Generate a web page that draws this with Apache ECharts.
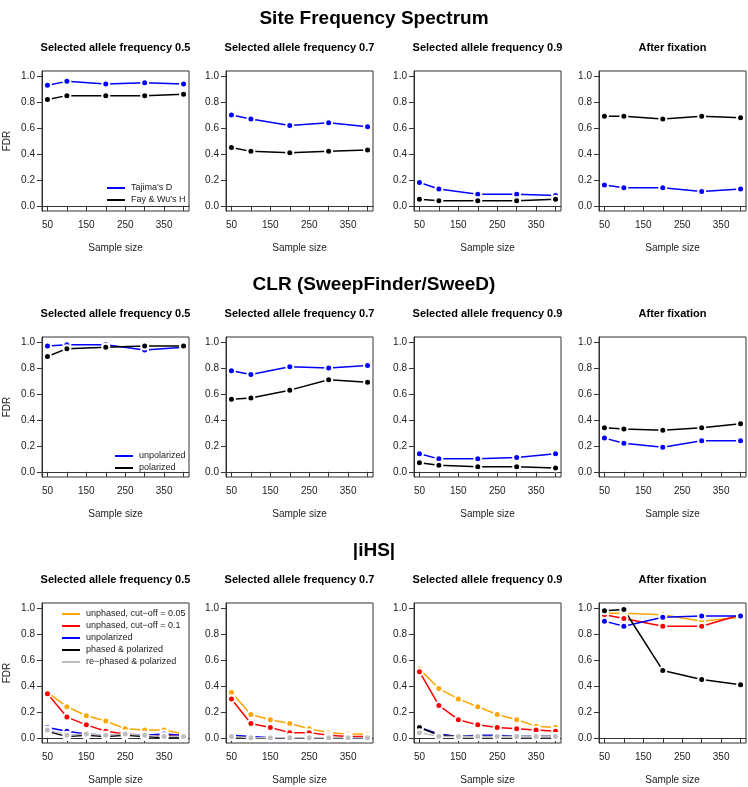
<!DOCTYPE html>
<html><head><meta charset="utf-8">
<script src="https://cdn.jsdelivr.net/npm/echarts@6/dist/echarts.min.js"></script>
<style>html,body{margin:0;padding:0;background:#fff}#c{width:748px;height:787px}</style>
</head><body><div id="c"></div><script>
const sectionTitles = ["Site Frequency Spectrum", "CLR (SweepFinder/SweeD)", "|iHS|"];
const panelTitles = ["Selected allele frequency 0.5", "Selected allele frequency 0.7", "Selected allele frequency 0.9", "After fixation"];
const xTicks = [50, 100, 150, 200, 250, 300, 350, 400];
const xTickLabels = [50, 150, 250, 350];
const yTicks = [0, 0.2, 0.4, 0.6, 0.8, 1.0];
const sizes5 = [50, 100, 200, 300, 400];
const sizes8 = [50, 100, 150, 200, 250, 300, 350, 400];

// Row 1: Site Frequency Spectrum (one array per panel)
const sfsTajimaD = [[0.93,0.96,0.94,0.95,0.94],[0.70,0.67,0.62,0.64,0.61],[0.18,0.13,0.09,0.09,0.08],[0.16,0.14,0.14,0.11,0.13]];
const sfsFayWuH = [[0.82,0.85,0.85,0.85,0.86],[0.45,0.42,0.41,0.42,0.43],[0.05,0.04,0.04,0.04,0.05],[0.69,0.69,0.67,0.69,0.68]];
// Row 2: CLR
const clrUnpolarized = [[0.97,0.98,0.98,0.94,0.96],[0.78,0.75,0.81,0.80,0.82],[0.14,0.10,0.10,0.11,0.14],[0.26,0.22,0.19,0.24,0.24]];
const clrPolarized = [[0.89,0.95,0.96,0.97,0.97],[0.56,0.57,0.63,0.71,0.69],[0.07,0.05,0.04,0.04,0.03],[0.34,0.33,0.32,0.34,0.37]];
// Row 3: |iHS|
const ihsUnphased005 = [[0.35,0.24,0.17,0.13,0.07,0.06,0.06,0.03],[0.35,0.18,0.14,0.11,0.07,0.04,0.03,0.03],[0.53,0.38,0.30,0.24,0.18,0.14,0.09,0.08],[0.96,0.96,0.95,0.90,0.93]];
const ihsUnphased01 = [[0.34,0.16,0.10,0.05,0.03,0.02,0.02,0.01],[0.30,0.11,0.08,0.04,0.04,0.02,0.01,0.01],[0.51,0.25,0.14,0.10,0.08,0.07,0.06,0.05],[0.95,0.92,0.86,0.86,0.95]];
const ihsUnpolarized = [[0.08,0.05,0.03,0.02,0.02,0.02,0.03,0.02],[0.02,0.01,0.00,0.00,0.00,0.00,0.00,0.00],[0.08,0.03,0.01,0.02,0.02,0.01,0.01,0.01],[0.90,0.86,0.93,0.94,0.94]];
const ihsPhasedPolarized = [[0.05,0.01,0.02,0.01,0.02,0.01,0.00,0.00],[0.01,0.00,0.00,0.00,0.00,0.00,0.00,0.00],[0.08,0.02,0.01,0.01,0.01,0.01,0.01,0.01],[0.98,0.99,0.52,0.45,0.41]];
const ihsRephasedPolarized = [[0.06,0.02,0.03,0.02,0.03,0.02,0.01,0.01],[0.01,0.00,0.00,0.00,0.00,0.00,0.00,0.00],[0.04,0.01,0.01,0.01,0.01,0.01,0.01,0.01],null];

const rowSeries = [
  [["Tajima's D", sfsTajimaD, '#0000FF'], ["Fay & Wu's H", sfsFayWuH, '#000000']],
  [["unpolarized", clrUnpolarized, '#0000FF'], ["polarized", clrPolarized, '#000000']],
  [["unphased, cut\u2212off = 0.05", ihsUnphased005, '#FFA500'], ["unphased, cut\u2212off = 0.1", ihsUnphased01, '#FF0000'],
   ["unpolarized", ihsUnpolarized, '#0000FF'], ["phased & polarized", ihsPhasedPolarized, '#000000'],
   ["re\u2212phased & polarized", ihsRephasedPolarized, '#BEBEBE']]
];

const FONT = "'Liberation Sans', Arial, Helvetica, sans-serif";
const colLeft = [42, 226, 414, 599];
const boxW = 147;
const rowTop = [71, 337, 603];
const boxH = 140;

const grids = [], xAxes = [], yAxes = [], series = [], graphics = [];
let gi = 0;
for (let r = 0; r < 3; r++) {
  graphics.push({type: 'text', x: 374, y: rowTop[r] - 52, style: {text: sectionTitles[r], font: 'bold 19px ' + FONT, fill: '#000', align: 'center', verticalAlign: 'middle'}});
  for (let c = 0; c < 4; c++) {
    grids.push({left: colLeft[c], top: rowTop[r], width: boxW, height: boxH, show: true, borderColor: '#333', borderWidth: 1, backgroundColor: 'transparent'});
    graphics.push({type: 'text', x: colLeft[c] + boxW / 2, y: rowTop[r] - 23, style: {text: panelTitles[c], font: 'bold 11px ' + FONT, fill: '#000', align: 'center', verticalAlign: 'middle'}});
    xAxes.push({
      gridIndex: gi, type: 'value', min: 36, max: 414,
      axisLine: {show: true, lineStyle: {color: '#333'}},
      axisTick: {show: true, customValues: xTicks, length: 5, lineStyle: {color: '#333'}},
      axisLabel: {customValues: xTickLabels, fontSize: 10, color: '#222', margin: 9, fontFamily: FONT},
      splitLine: {show: false},
      name: 'Sample size', nameLocation: 'middle', nameGap: 32,
      nameTextStyle: {fontSize: 10, color: '#222', fontFamily: FONT}
    });
    yAxes.push({
      gridIndex: gi, type: 'value', min: -0.04, max: 1.04,
      axisLine: {show: true, lineStyle: {color: '#333'}},
      axisTick: {show: true, customValues: yTicks, length: 5, lineStyle: {color: '#333'}},
      axisLabel: {customValues: yTicks, fontSize: 10, color: '#222', margin: 7, fontFamily: FONT, formatter: v => Number(v).toFixed(1)},
      splitLine: {show: false},
      name: c === 0 ? 'FDR' : '', nameLocation: 'middle', nameGap: 30,
      nameTextStyle: {fontSize: 10, color: '#222', fontFamily: FONT}
    });
    const xs = (r === 2 && c < 3) ? sizes8 : sizes5;
    rowSeries[r].forEach(([name, arr, color]) => {
      const vals = arr[c];
      if (!vals) return;
      series.push({
        type: 'line', name: name, xAxisIndex: gi, yAxisIndex: gi,
        data: xs.map((x, i) => [x, vals[i]]),
        symbol: 'circle', symbolSize: 7,
        itemStyle: {color: color, borderColor: '#fff', borderWidth: 2},
        lineStyle: {color: color, width: 1.5},
        emphasis: {disabled: true}, silent: true
      });
    });
    gi++;
  }
}

const legendBase = {orient: 'vertical', icon: 'rect', itemWidth: 18, itemHeight: 2, itemGap: 0, padding: 0,
  itemStyle: {borderWidth: 0}, selectedMode: false,
  textStyle: {fontSize: 9, color: '#222', fontFamily: FONT, lineHeight: 12, padding: [0, 0, 0, 1]}};
const legends = [
  Object.assign({}, legendBase, {left: 107, top: 182, data: ["Tajima's D", "Fay & Wu's H"]}),
  Object.assign({}, legendBase, {left: 115, top: 450, data: ["unpolarized", "polarized"]}),
  Object.assign({}, legendBase, {left: 62, top: 608, data: rowSeries[2].map(s => s[0])})
];

const chart = echarts.init(document.getElementById('c'), null, {renderer: 'canvas'});
chart.setOption({
  animation: false, backgroundColor: '#fff',
  grid: grids, xAxis: xAxes, yAxis: yAxes, series: series,
  legend: legends, graphic: graphics
});
</script></body></html>
